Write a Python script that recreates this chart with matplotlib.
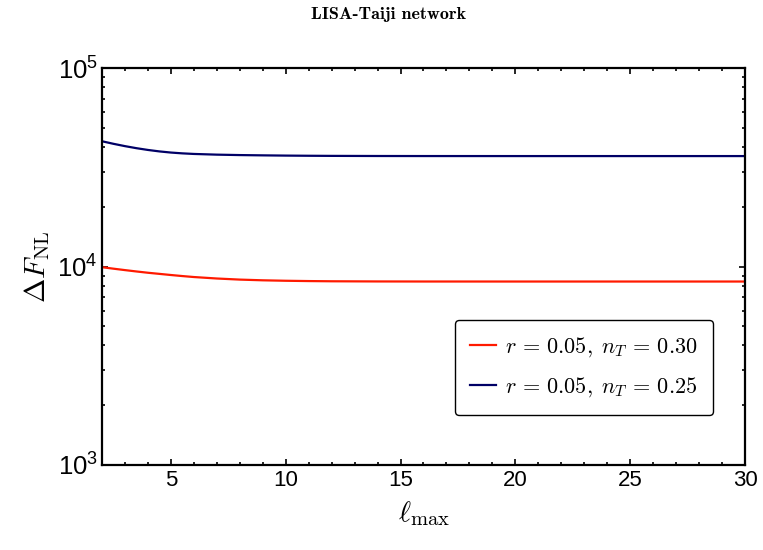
import numpy as np
import matplotlib
matplotlib.use("Agg")
import matplotlib.pyplot as plt
from matplotlib.ticker import FixedLocator, MultipleLocator, LogLocator, NullFormatter

plt.rcParams["mathtext.fontset"] = "cm"
plt.rcParams["mathtext.rm"] = "Liberation Sans"
plt.rcParams["mathtext.it"] = "Liberation Sans:italic"
plt.rcParams["mathtext.bf"] = "Liberation Sans:bold"
plt.rcParams["font.family"] = ["Liberation Sans", "DejaVu Sans"]

# ── Data ──────────────────────────────────────────────────────────────
l_max = [2, 2.5, 3, 3.5, 4, 4.5, 5, 5.5, 6, 7, 8, 9, 10, 11, 12, 14, 16,
         20, 25, 30]

dF_nT030 = [9920, 9750, 9590, 9440, 9300, 9180, 9060, 8950, 8850, 8700,
            8590, 8520, 8475, 8445, 8425, 8408, 8402, 8400, 8400, 8400]
dF_nT025 = [42750, 41500, 40400, 39450, 38650, 38000, 37500, 37150, 36900,
            36600, 36420, 36300, 36200, 36130, 36080, 36030, 36010, 36000,
            36000, 36000]

labels = [r"$r\,=\,0.05,\;n_T\,=\,0.30$", r"$r\,=\,0.05,\;n_T\,=\,0.25$"]
colours = ["#ff1a00", "#000066"]
ytick_vals = [1e3, 1e4, 1e5]
ytick_txt = [r"$\mathrm{10}^{\mathrm{3}}$", r"$\mathrm{10}^{\mathrm{4}}$",
             r"$\mathrm{10}^{\mathrm{5}}$"]

fig = plt.figure(figsize=(7.63, 5.5), dpi=100)
ax = fig.add_axes([102 / 763, 1 - 465 / 550, 643 / 763, 397 / 550])

ax.plot(l_max, dF_nT030, color=colours[0], lw=1.6, label=labels[0])
ax.plot(l_max, dF_nT025, color=colours[1], lw=1.6, label=labels[1])

ax.set_yscale("log")
ax.set_xlim(2, 30)
ax.set_ylim(1e3, 1e5)

ax.xaxis.set_major_locator(FixedLocator([5, 10, 15, 20, 25, 30]))
ax.xaxis.set_minor_locator(MultipleLocator(1))
ax.yaxis.set_major_locator(FixedLocator(ytick_vals))
ax.yaxis.set_minor_locator(LogLocator(base=10, subs=np.arange(2, 10)))
ax.yaxis.set_minor_formatter(NullFormatter())
ax.set_yticklabels(ytick_txt)

ax.tick_params(which="both", direction="in", top=True, right=True,
               labelsize=16, width=1.2)
ax.tick_params(axis="y", labelsize=18.5, pad=3)
ax.tick_params(which="major", length=4.5)
ax.tick_params(which="minor", length=2.5)
for t in ax.get_yticklabels():
    t.set_math_fontfamily("custom")
for s in ax.spines.values():
    s.set_linewidth(1.6)

ax.set_xlabel(r"$\ell_{\max}$", fontsize=21, labelpad=6)
ax.set_ylabel(r"$\Delta F_{\rm NL}$", fontsize=21, labelpad=4)

fig.text(389 / 763, 1 - 15 / 550, "LISA-Taiji network", ha="center",
         va="center", fontsize=13, family="cmb10")

leg = ax.legend(loc="lower right", bbox_to_anchor=(0.9502, 0.126), fontsize=16,
                frameon=True, fancybox=True, edgecolor="black",
                borderaxespad=0, handlelength=1.15, borderpad=0.7,
                labelspacing=0.75, handletextpad=0.4)
leg.get_frame().set_linewidth(1.0)
leg.get_frame().set_alpha(1)

fig.savefig("out.png", dpi=100)
